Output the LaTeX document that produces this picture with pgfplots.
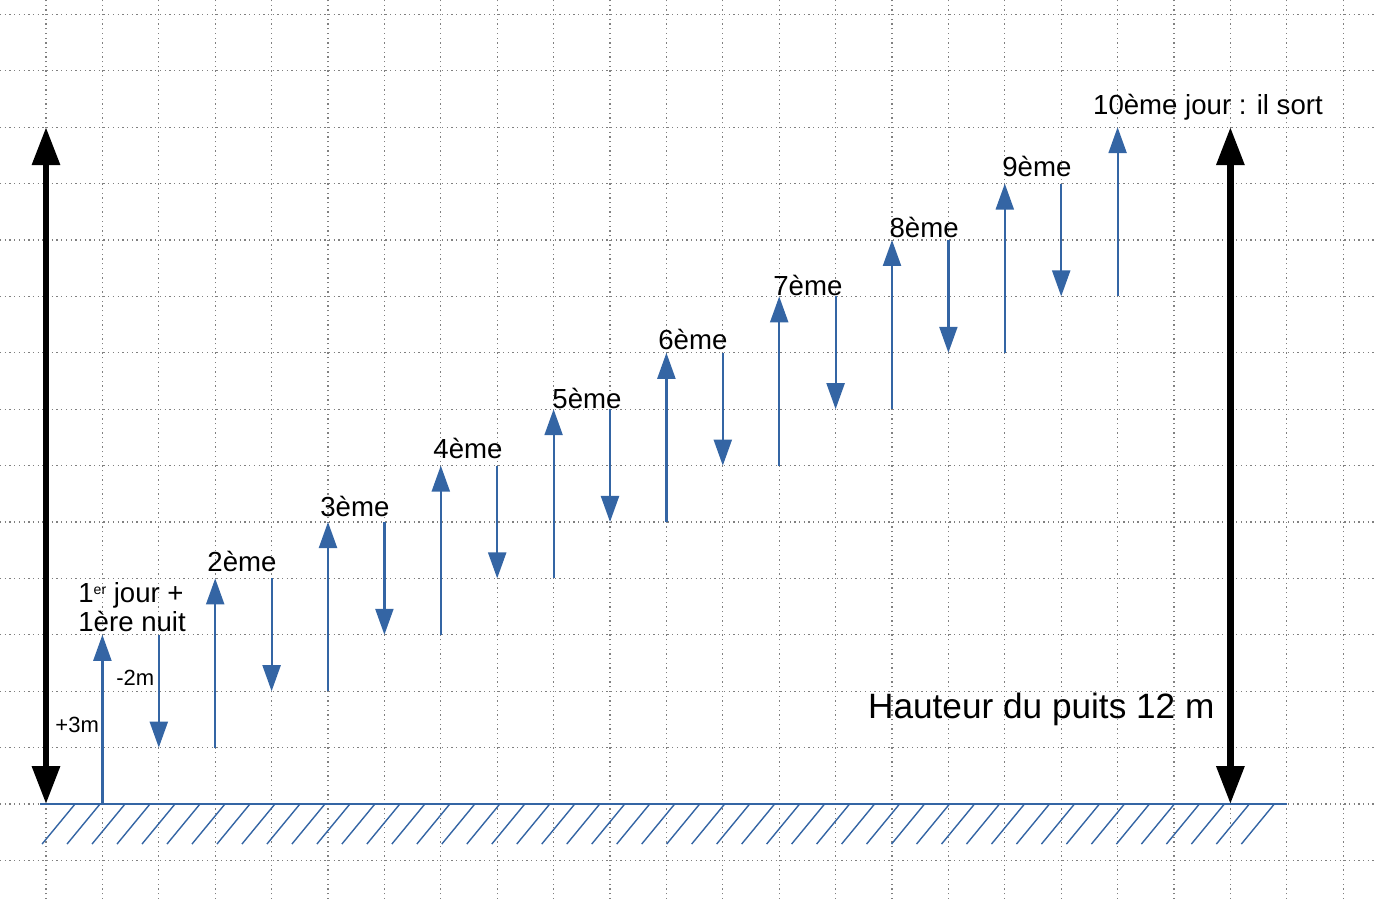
\documentclass[border=0pt]{standalone}
\usepackage{pgfplots}
\pgfplotsset{compat=1.18}
\usepackage{fontspec}
\setmainfont{Liberation Sans}
\usetikzlibrary{arrows.meta}
\definecolor{lblue}{RGB}{52,101,164}
\begin{document}
\begin{tikzpicture}
\begin{axis}[
  scale only axis, width=687.5pt, height=449.5pt,
  xmin=-0.8156, xmax=23.564, ymin=-1.684, ymax=14.255,
  axis line style={draw=none},
  xtick={0,...,23}, ytick={-1,...,14},
  xticklabels={}, yticklabels={},
  major tick length=0pt,
  grid=major,
  grid style={black!50, line width=0.65pt, dash pattern=on 0.65pt off 1.7pt},
  clip=false,
]
\coordinate (SW) at (rel axis cs:0,0);
\coordinate (NE) at (rel axis cs:1,1);
% ground hatching
\pgfplotsinvokeforeach{0,...,48}{
  \draw[lblue, line width=0.7pt] (axis cs:{-0.07+0.443*#1},-0.71) -- (axis cs:{0.515+0.443*#1},0);
}
\addplot[lblue, line width=0.8pt] coordinates {(-0.1,0) (22,0)};
% climbing (day)
\addplot[lblue, line width=1.1pt, -{Triangle[width=9pt,length=13pt]},
  quiver={u=0, v=\thisrow{v}}] table {
x y v
1 0 3
3 1 3
5 2 3
7 3 3
9 4 3
11 5 3
13 6 3
15 7 3
17 8 3
19 9 3
};
% sliding (night)
\addplot[lblue, line width=1.1pt, -{Triangle[width=9pt,length=13pt]},
  quiver={u=0, v=\thisrow{v}}] table {
x y v
2 3 -2
4 4 -2
6 5 -2
8 6 -2
10 7 -2
12 8 -2
14 9 -2
16 10 -2
18 11 -2
};
% well height
\addplot[black, line width=3.2pt, {Triangle[width=13.5pt,length=19pt]}-{Triangle[width=13.5pt,length=19pt]},
  quiver={u=0, v=\thisrow{v}}] table {
x y v
0 0 12
21 0 12
};
\tikzset{lab/.style={anchor=base west, inner sep=0pt, font=\fontsize{13.8}{16}\selectfont}}
\node[lab] at (axis cs:0.567,3.58) {1\raisebox{0.55ex}{\fontsize{7}{8}\selectfont er} jour +};
\node[lab] at (axis cs:0.567,3.05) {1ère nuit};
\node[lab] at (axis cs:2.855,4.131) {2ème};
\node[lab] at (axis cs:4.858,5.089) {3ème};
\node[lab] at (axis cs:6.862,6.117) {4ème};
\node[lab] at (axis cs:8.972,7.021) {5ème};
\node[lab] at (axis cs:10.85,8.05) {6ème};
\node[lab] at (axis cs:12.89,9.02) {7ème};
\node[lab] at (axis cs:14.95,10.04) {8ème};
\node[lab] at (axis cs:16.95,11.12) {9ème};
\node[lab] at (axis cs:18.56,12.22) {10ème jour : il sort};
\node[lab, font=\fontsize{11}{13}\selectfont] at (axis cs:1.24,2.11) {-2m};
\node[lab, font=\fontsize{11}{13}\selectfont] at (axis cs:0.16,1.26) {+3m};
\node[lab, font=\fontsize{17.6}{20}\selectfont] at (axis cs:14.57,1.51) {Hauteur du puits 12 m};
\end{axis}
\pgfresetboundingbox
\useasboundingbox (SW) rectangle (NE);
\end{tikzpicture}
\end{document}
